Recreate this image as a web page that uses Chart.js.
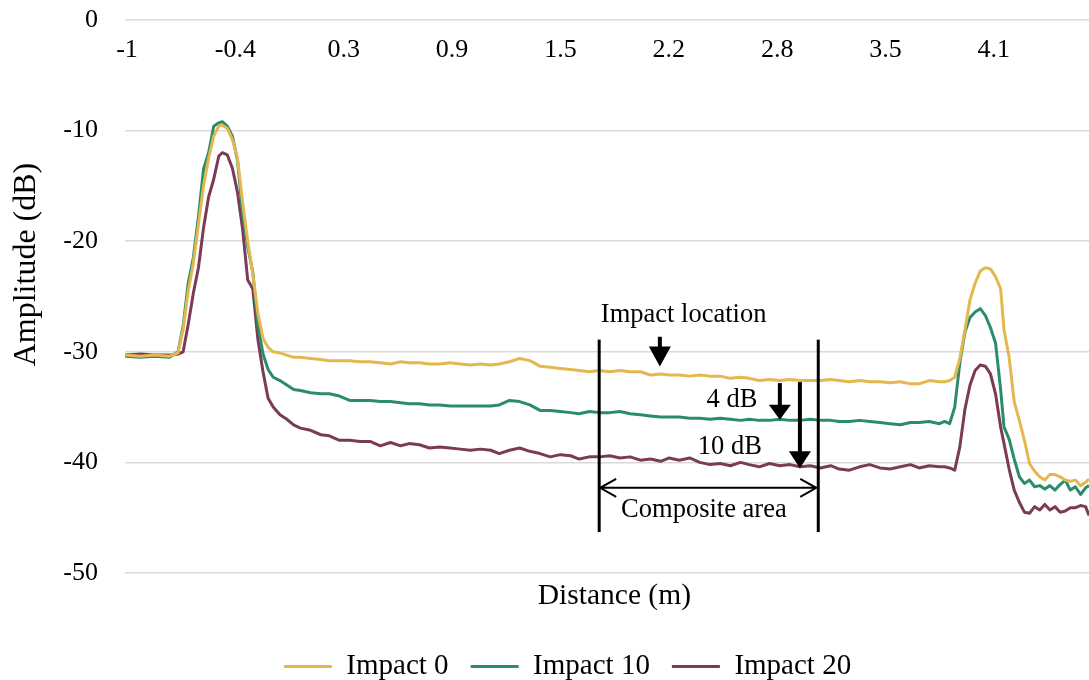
<!DOCTYPE html>
<html lang="en">
<head>
  <meta charset="UTF-8">
  <title>Amplitude vs Distance</title>
  <script src="https://cdn.jsdelivr.net/npm/chart.js"></script>
  <style>
    html, body { margin: 0; padding: 0; background: #fff; }
    #wrap { width: 1089px; height: 680px; position: relative; }
  </style>
</head>
<body>
  <div id="wrap"><canvas id="ampChart"></canvas></div>
  <script>
    // distance along the plate (m)
    const distance = [
      -1.01, -0.92, -0.84, -0.75, -0.70,
      -0.67, -0.64, -0.61, -0.58, -0.55, -0.52, -0.49, -0.46, -0.44, -0.41, -0.38, -0.35,
      -0.32, -0.29, -0.26, -0.23, -0.20, -0.17, -0.14, -0.10, -0.06, -0.02, 0.02,
      0.08, 0.14, 0.19, 0.25, 0.31, 0.37, 0.43, 0.49, 0.55, 0.61,
      0.66, 0.72, 0.78, 0.84, 0.90, 0.96, 1.02, 1.08, 1.14, 1.19,
      1.25, 1.31, 1.37, 1.43, 1.49, 1.55, 1.61, 1.66, 1.72, 1.78,
      1.84, 1.90, 1.96, 2.02, 2.08, 2.14, 2.19, 2.25, 2.31, 2.37,
      2.43, 2.49, 2.55, 2.61, 2.66, 2.72, 2.78, 2.84, 2.90, 2.96,
      3.02, 3.08, 3.14, 3.19, 3.25, 3.31, 3.37, 3.43, 3.49, 3.55,
      3.61, 3.66, 3.72, 3.78,
      3.81, 3.84, 3.87, 3.90, 3.93, 3.96, 3.99, 4.02, 4.05, 4.08, 4.11, 4.14, 4.16, 4.19, 4.22,
      4.25, 4.28, 4.31, 4.34, 4.37, 4.40, 4.43, 4.46, 4.49, 4.52, 4.55, 4.58, 4.61, 4.64, 4.66
    ];

    const impact0 = [
      -30.3, -30.4, -30.3, -30.4, -30.1,
      -28.0, -24.5, -22.0, -18.5, -15.0, -12.5, -10.5, -9.6, -9.5, -9.8, -10.8, -12.5,
      -16.5, -20.0, -23.0, -26.5, -28.8, -29.6, -30.0, -30.1, -30.3, -30.5, -30.5,
      -30.6, -30.7, -30.8, -30.8, -30.8, -30.9, -30.9, -31.0, -31.1, -30.9,
      -31.0, -31.0, -31.1, -31.1, -31.0, -31.1, -31.2, -31.1, -31.2, -31.1,
      -30.9, -30.6, -30.8, -31.3, -31.4, -31.5, -31.6, -31.7, -31.8, -31.7,
      -31.8, -31.7, -31.8, -31.8, -32.1, -32.0, -32.1, -32.1, -32.2, -32.1,
      -32.2, -32.2, -32.4, -32.3, -32.4, -32.6, -32.5, -32.6, -32.5, -32.6,
      -32.6, -32.6, -32.5, -32.6, -32.7, -32.6, -32.7, -32.7, -32.8, -32.7,
      -32.9, -32.9, -32.6, -32.7,
      -32.7, -32.6, -32.3, -30.6, -28.0, -25.3, -23.8, -22.7, -22.4, -22.5, -23.2, -24.3, -28.0, -30.5, -34.5,
      -36.2, -38.0, -40.1, -40.8, -41.3, -41.6, -41.1, -41.1, -41.3, -41.6, -41.7, -41.6, -42.1, -41.8, -41.5
    ];

    const impact10 = [
      -30.4, -30.5, -30.4, -30.5, -30.0,
      -27.7, -23.8, -21.5, -17.8, -13.5, -12.0, -9.6, -9.3, -9.2, -9.6, -10.5, -12.7,
      -17.5, -20.5, -22.8, -27.6, -30.2, -31.6, -32.3, -32.6, -33.0, -33.4, -33.5,
      -33.7, -33.8, -33.8, -34.0, -34.4, -34.4, -34.4, -34.5, -34.5, -34.6,
      -34.7, -34.7, -34.8, -34.8, -34.9, -34.9, -34.9, -34.9, -34.9, -34.8,
      -34.4, -34.5, -34.8, -35.3, -35.3, -35.4, -35.5, -35.6, -35.4, -35.5,
      -35.5, -35.4, -35.6, -35.7, -35.8, -35.9, -35.9, -35.9, -36.0, -36.0,
      -36.1, -36.0, -36.1, -36.2, -36.1, -36.2, -36.2, -36.1, -36.2, -36.2,
      -36.1, -36.2, -36.2, -36.3, -36.3, -36.2, -36.3, -36.4, -36.5, -36.6,
      -36.4, -36.4, -36.3, -36.5,
      -36.3, -36.5, -35.0, -31.0, -28.2, -26.9, -26.4, -26.1, -26.7, -27.8, -29.2, -33.4, -36.8, -37.9, -39.7,
      -41.3, -41.9, -41.6, -42.2, -42.1, -42.4, -42.1, -42.5, -42.0, -41.6, -42.5, -42.2, -42.9, -42.3, -42.1
    ];

    const impact20 = [
      -30.3, -30.2, -30.3, -30.3, -30.2,
      -30.0, -27.5, -24.7, -22.4, -18.8, -16.0, -14.4, -12.3, -12.0, -12.2, -13.4, -15.6,
      -18.9, -23.5, -24.3, -28.9, -31.8, -34.2, -35.0, -35.7, -36.1, -36.6, -36.9,
      -37.1, -37.5, -37.6, -38.0, -38.0, -38.1, -38.1, -38.5, -38.2, -38.5,
      -38.3, -38.4, -38.7, -38.6, -38.7, -38.8, -38.9, -38.8, -38.9, -39.2,
      -38.9, -38.7, -39.0, -39.2, -39.5, -39.3, -39.4, -39.7, -39.5, -39.5,
      -39.4, -39.6, -39.5, -39.8, -39.7, -39.9, -39.6, -39.8, -39.6, -40.0,
      -40.2, -40.1, -40.3, -40.0, -40.2, -40.4, -40.1, -40.3, -40.2, -40.4,
      -40.3, -40.5, -40.3, -40.6, -40.7, -40.4, -40.2, -40.5, -40.6, -40.4,
      -40.2, -40.5, -40.3, -40.4,
      -40.4, -40.5, -40.7, -38.6, -35.2, -33.0, -31.7, -31.2, -31.3, -32.0, -33.8, -36.8, -38.3, -40.6, -42.5,
      -43.6, -44.5, -44.6, -44.0, -44.3, -43.8, -44.3, -44.0, -44.5, -44.4, -44.1, -44.1, -43.9, -44.0, -44.8
    ];

    const seriesNames = ['Impact 0', 'Impact 10', 'Impact 20'];
    const xTickValues = [-1, -0.3625, 0.275, 0.9125, 1.55, 2.1875, 2.825, 3.4625, 4.1];
    const xTickLabels = ['-1', '-0.4', '0.3', '0.9', '1.5', '2.2', '2.8', '3.5', '4.1'];

    // annotations, in data units (m, dB)
    const compositeEdges = [1.778, 3.067];
    const compositeSpan = [-28.9, -46.3];
    const compositeArrowLevel = -42.3;
    const notes = [
      { text: 'Impact location', x: 2.275, y: -26.65 },
      { text: '4 dB', x: 2.559, y: -34.34 },
      { text: '10 dB', x: 2.547, y: -38.57 },
      { text: 'Composite area', x: 2.394, y: -44.3 }
    ];
    const dropArrows = [
      { x: 2.135, from: -28.64, to: -31.33, head: 20 },
      { x: 2.841, from: -32.83, to: -36.15, head: 15 },
      { x: 2.959, from: -32.74, to: -40.53, head: 17 }
    ];

    const FONT = 'Liberation Serif';
    const colors = ['#e3b94f', '#2b8c6a', '#7a3b58'];

    const annotations = {
      id: 'annotations',
      afterLayout(chart) {
        // legend in the original sits a little right of centre
        if (chart.legend) { chart.legend.left += 46; }
      },
      afterDatasetsDraw(chart) {
        const { ctx, scales: { x, y } } = chart;
        ctx.save();
        ctx.strokeStyle = '#000';
        ctx.fillStyle = '#000';

        // composite area borders
        ctx.lineWidth = 3;
        compositeEdges.forEach(d => {
          ctx.beginPath();
          ctx.moveTo(x.getPixelForValue(d), y.getPixelForValue(compositeSpan[0]));
          ctx.lineTo(x.getPixelForValue(d), y.getPixelForValue(compositeSpan[1]));
          ctx.stroke();
        });

        // double headed arrow between them
        const ay = y.getPixelForValue(compositeArrowLevel);
        const x1 = x.getPixelForValue(compositeEdges[0]) + 1;
        const x2 = x.getPixelForValue(compositeEdges[1]) - 2;
        ctx.lineWidth = 2;
        ctx.beginPath();
        ctx.moveTo(x1, ay); ctx.lineTo(x2, ay);
        ctx.moveTo(x1 + 16, ay - 9); ctx.lineTo(x1, ay); ctx.lineTo(x1 + 16, ay + 9);
        ctx.moveTo(x2 - 16, ay - 9); ctx.lineTo(x2, ay); ctx.lineTo(x2 - 16, ay + 9);
        ctx.stroke();

        // downward arrows
        dropArrows.forEach(a => {
          const ax = x.getPixelForValue(a.x);
          const top = y.getPixelForValue(a.from);
          const tip = y.getPixelForValue(a.to);
          ctx.lineWidth = 4;
          ctx.beginPath();
          ctx.moveTo(ax, top);
          ctx.lineTo(ax, tip - a.head + 2);
          ctx.stroke();
          ctx.beginPath();
          ctx.moveTo(ax - 11, tip - a.head);
          ctx.lineTo(ax + 11, tip - a.head);
          ctx.lineTo(ax, tip);
          ctx.closePath();
          ctx.fill();
        });

        ctx.font = '26.5px "' + FONT + '"';
        ctx.textAlign = 'center';
        ctx.textBaseline = 'middle';
        notes.forEach(n => {
          ctx.fillText(n.text, x.getPixelForValue(n.x), y.getPixelForValue(n.y));
        });
        ctx.restore();
      }
    };

    const ctx = document.getElementById('ampChart').getContext('2d');
    new Chart(ctx, {
      type: 'line',
      data: {
        datasets: [impact0, impact10, impact20].map((vals, i) => ({
          label: seriesNames[i],
          data: vals.map((v, j) => ({ x: distance[j], y: v })),
          borderColor: colors[i],
          backgroundColor: colors[i],
          borderWidth: 3,
          pointRadius: 0,
          tension: 0,
          borderJoinStyle: 'round',
          xAxisID: 'x',
          yAxisID: 'y'
        }))
      },
      options: {
        responsive: true,
        maintainAspectRatio: false,
        animation: false,
        layout: { padding: { top: 20, right: 0, bottom: -11, left: 0 } },
        scales: {
          x: {
            type: 'linear',
            min: -1.012,
            max: 4.66,
            position: { y: 0 },
            grid: { display: false, drawTicks: false },
            border: { display: false },
            afterBuildTicks: scale => {
              scale.ticks = xTickValues.map(v => ({ value: v }));
            },
            ticks: {
              autoSkip: false,
              maxRotation: 0,
              padding: 14.5,
              color: '#000',
              font: { family: FONT, size: 26 },
              callback: (value, index) => xTickLabels[index]
            }
          },
          x2: {
            type: 'linear',
            min: 0,
            max: 1,
            position: 'bottom',
            grid: { display: false, drawTicks: false },
            border: { display: false },
            ticks: { display: false },
            afterFit: scale => { scale.height = 57; },
            title: {
              display: true,
              text: '  Distance (m)',
              color: '#000',
              font: { family: FONT, size: 29.5 },
              padding: { top: 0, bottom: 16 }
            }
          },
          y: {
            min: -50,
            max: 0,
            afterFit: scale => {
              scale.width = 125;
              scale.paddingTop = 0;
              scale.paddingBottom = 0;
            },
            grid: { color: '#d9d9d9', lineWidth: 1.5, drawTicks: false },
            border: { display: false },
            ticks: {
              stepSize: 10,
              padding: 27,
              color: '#000',
              font: { family: FONT, size: 26 }
            },
            title: {
              display: true,
              text: '        Amplitude (dB)',
              color: '#000',
              font: { family: FONT, size: 32 },
              padding: { top: 7, bottom: 0 }
            }
          }
        },
        plugins: {
          legend: {
            position: 'bottom',
            labels: {
              usePointStyle: true,
              pointStyle: 'line',
              pointStyleWidth: 48,
              padding: 22,
              color: '#000',
              font: { family: FONT, size: 29 }
            }
          },
          tooltip: { enabled: false }
        }
      },
      plugins: [annotations]
    });
  </script>
</body>
</html>
